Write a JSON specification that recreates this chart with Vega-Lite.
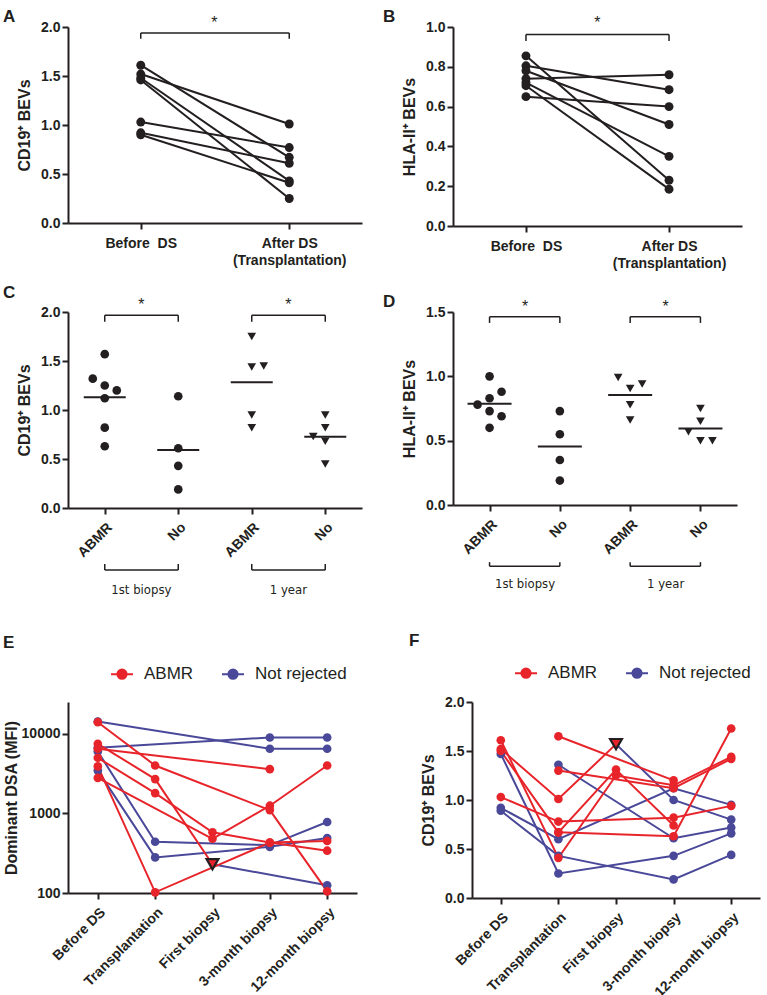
{
"$schema": "https://vega.github.io/schema/vega-lite/v6.json",
"background": "white",
"padding": {"left": 3, "top": 8, "right": 4, "bottom": 4},
"config": {
  "font": "Liberation Sans",
  "view": {"stroke": null},
  "axis": {"grid": false, "domainColor": "#231f20", "domainWidth": 2, "tickColor": "#231f20", "tickWidth": 2, "tickSize": 6, "labelFont": "Liberation Sans", "labelFontWeight": "bold", "labelFontSize": 14, "labelColor": "#231f20", "titleFont": "Liberation Sans", "titleFontWeight": "bold", "titleFontSize": 16, "titleColor": "#231f20", "labelPadding": 2, "titlePadding": 8, "labelOverlap": false},
  "title": {"anchor": "start", "fontSize": 17, "fontWeight": "bold", "font": "Liberation Sans", "color": "#231f20", "frame": "group", "baseline": "top", "offset": 0}
},
"datasets": {
  "a": [
    {"pid": 1, "time": "Before DS", "v": 1.61}, {"pid": 1, "time": "After DS", "v": 0.67},
    {"pid": 2, "time": "Before DS", "v": 1.52}, {"pid": 2, "time": "After DS", "v": 1.01},
    {"pid": 3, "time": "Before DS", "v": 1.48}, {"pid": 3, "time": "After DS", "v": 0.43},
    {"pid": 4, "time": "Before DS", "v": 1.46}, {"pid": 4, "time": "After DS", "v": 0.25},
    {"pid": 5, "time": "Before DS", "v": 1.03}, {"pid": 5, "time": "After DS", "v": 0.77},
    {"pid": 6, "time": "Before DS", "v": 0.92}, {"pid": 6, "time": "After DS", "v": 0.61},
    {"pid": 7, "time": "Before DS", "v": 0.90}, {"pid": 7, "time": "After DS", "v": 0.41}
  ],
  "aAnn": [
    {"xa": "Before DS", "xb": "After DS", "ya": 1.94, "yb": 1.94},
    {"xa": "Before DS", "xb": "Before DS", "ya": 1.94, "yb": 1.88},
    {"xa": "After DS", "xb": "After DS", "ya": 1.94, "yb": 1.88}
  ],
  "aTxt": [{"xa": "Before DS", "y": 2.04, "t": "*"}],
  "b": [
    {"pid": 1, "time": "Before DS", "v": 0.855}, {"pid": 1, "time": "After DS", "v": 0.23},
    {"pid": 2, "time": "Before DS", "v": 0.805}, {"pid": 2, "time": "After DS", "v": 0.685},
    {"pid": 3, "time": "Before DS", "v": 0.78}, {"pid": 3, "time": "After DS", "v": 0.51},
    {"pid": 4, "time": "Before DS", "v": 0.74}, {"pid": 4, "time": "After DS", "v": 0.76},
    {"pid": 5, "time": "Before DS", "v": 0.72}, {"pid": 5, "time": "After DS", "v": 0.35},
    {"pid": 6, "time": "Before DS", "v": 0.705}, {"pid": 6, "time": "After DS", "v": 0.185},
    {"pid": 7, "time": "Before DS", "v": 0.65}, {"pid": 7, "time": "After DS", "v": 0.60}
  ],
  "bAnn": [
    {"xa": "Before DS", "xb": "After DS", "ya": 0.962, "yb": 0.962},
    {"xa": "Before DS", "xb": "Before DS", "ya": 0.962, "yb": 0.93},
    {"xa": "After DS", "xb": "After DS", "ya": 0.962, "yb": 0.93}
  ],
  "bTxt": [{"xa": "Before DS", "y": 1.02, "t": "*"}],
  "c": [
    {"grp": "ABMR_1st", "tp": "1st biopsy", "v": 1.57, "jit": 0},
    {"grp": "ABMR_1st", "tp": "1st biopsy", "v": 1.32, "jit": -1},
    {"grp": "ABMR_1st", "tp": "1st biopsy", "v": 1.25, "jit": 0},
    {"grp": "ABMR_1st", "tp": "1st biopsy", "v": 1.20, "jit": 1},
    {"grp": "ABMR_1st", "tp": "1st biopsy", "v": 1.12, "jit": 0},
    {"grp": "ABMR_1st", "tp": "1st biopsy", "v": 0.82, "jit": 0},
    {"grp": "ABMR_1st", "tp": "1st biopsy", "v": 0.63, "jit": 0},
    {"grp": "No_1st", "tp": "1st biopsy", "v": 1.14, "jit": 0},
    {"grp": "No_1st", "tp": "1st biopsy", "v": 0.61, "jit": 0},
    {"grp": "No_1st", "tp": "1st biopsy", "v": 0.43, "jit": 0},
    {"grp": "No_1st", "tp": "1st biopsy", "v": 0.19, "jit": 0},
    {"grp": "ABMR_1y", "tp": "1 year", "v": 1.75, "jit": 0},
    {"grp": "ABMR_1y", "tp": "1 year", "v": 1.44, "jit": 0},
    {"grp": "ABMR_1y", "tp": "1 year", "v": 1.45, "jit": 1},
    {"grp": "ABMR_1y", "tp": "1 year", "v": 0.95, "jit": 0},
    {"grp": "ABMR_1y", "tp": "1 year", "v": 0.82, "jit": 0},
    {"grp": "No_1y", "tp": "1 year", "v": 0.95, "jit": 0},
    {"grp": "No_1y", "tp": "1 year", "v": 0.82, "jit": 0},
    {"grp": "No_1y", "tp": "1 year", "v": 0.73, "jit": -1},
    {"grp": "No_1y", "tp": "1 year", "v": 0.68, "jit": 0},
    {"grp": "No_1y", "tp": "1 year", "v": 0.45, "jit": 0}
  ],
  "cAnn": [
    {"xa": "ABMR_1st", "xb": "No_1st", "ya": 1.966, "yb": 1.966},
    {"xa": "ABMR_1st", "xb": "ABMR_1st", "ya": 1.966, "yb": 1.90},
    {"xa": "No_1st", "xb": "No_1st", "ya": 1.966, "yb": 1.90},
    {"xa": "ABMR_1y", "xb": "No_1y", "ya": 1.966, "yb": 1.966},
    {"xa": "ABMR_1y", "xb": "ABMR_1y", "ya": 1.966, "yb": 1.90},
    {"xa": "No_1y", "xb": "No_1y", "ya": 1.966, "yb": 1.90},
    {"xa": "ABMR_1st", "xb": "No_1st", "ya": -0.633, "yb": -0.633},
    {"xa": "ABMR_1st", "xb": "ABMR_1st", "ya": -0.633, "yb": -0.571},
    {"xa": "No_1st", "xb": "No_1st", "ya": -0.633, "yb": -0.571},
    {"xa": "ABMR_1y", "xb": "No_1y", "ya": -0.633, "yb": -0.633},
    {"xa": "ABMR_1y", "xb": "ABMR_1y", "ya": -0.633, "yb": -0.571},
    {"xa": "No_1y", "xb": "No_1y", "ya": -0.633, "yb": -0.571}
  ],
  "cStar": [{"xa": "ABMR_1st", "y": 2.07, "t": "*"}, {"xa": "ABMR_1y", "y": 2.07, "t": "*"}],
  "cGrp": [{"xa": "ABMR_1st", "y": -0.837, "t": "1st biopsy"}, {"xa": "ABMR_1y", "y": -0.837, "t": "1 year"}],
  "d": [
    {"grp": "ABMR_1st", "tp": "1st biopsy", "v": 1.00, "jit": 0},
    {"grp": "ABMR_1st", "tp": "1st biopsy", "v": 0.88, "jit": 1},
    {"grp": "ABMR_1st", "tp": "1st biopsy", "v": 0.83, "jit": 0},
    {"grp": "ABMR_1st", "tp": "1st biopsy", "v": 0.78, "jit": -1},
    {"grp": "ABMR_1st", "tp": "1st biopsy", "v": 0.73, "jit": 0},
    {"grp": "ABMR_1st", "tp": "1st biopsy", "v": 0.69, "jit": 1},
    {"grp": "ABMR_1st", "tp": "1st biopsy", "v": 0.60, "jit": 0},
    {"grp": "No_1st", "tp": "1st biopsy", "v": 0.73, "jit": 0},
    {"grp": "No_1st", "tp": "1st biopsy", "v": 0.55, "jit": 0},
    {"grp": "No_1st", "tp": "1st biopsy", "v": 0.35, "jit": 0},
    {"grp": "No_1st", "tp": "1st biopsy", "v": 0.19, "jit": 0},
    {"grp": "ABMR_1y", "tp": "1 year", "v": 0.99, "jit": -1},
    {"grp": "ABMR_1y", "tp": "1 year", "v": 0.94, "jit": 1},
    {"grp": "ABMR_1y", "tp": "1 year", "v": 0.905, "jit": 0},
    {"grp": "ABMR_1y", "tp": "1 year", "v": 0.78, "jit": 0},
    {"grp": "ABMR_1y", "tp": "1 year", "v": 0.66, "jit": 0},
    {"grp": "No_1y", "tp": "1 year", "v": 0.75, "jit": 0},
    {"grp": "No_1y", "tp": "1 year", "v": 0.65, "jit": 0},
    {"grp": "No_1y", "tp": "1 year", "v": 0.57, "jit": -1},
    {"grp": "No_1y", "tp": "1 year", "v": 0.50, "jit": 0},
    {"grp": "No_1y", "tp": "1 year", "v": 0.50, "jit": 1}
  ],
  "dAnn": [
    {"xa": "ABMR_1st", "xb": "No_1st", "ya": 1.463, "yb": 1.463},
    {"xa": "ABMR_1st", "xb": "ABMR_1st", "ya": 1.463, "yb": 1.415},
    {"xa": "No_1st", "xb": "No_1st", "ya": 1.463, "yb": 1.415},
    {"xa": "ABMR_1y", "xb": "No_1y", "ya": 1.463, "yb": 1.463},
    {"xa": "ABMR_1y", "xb": "ABMR_1y", "ya": 1.463, "yb": 1.415},
    {"xa": "No_1y", "xb": "No_1y", "ya": 1.463, "yb": 1.415},
    {"xa": "ABMR_1st", "xb": "No_1st", "ya": -0.476, "yb": -0.476},
    {"xa": "ABMR_1st", "xb": "ABMR_1st", "ya": -0.476, "yb": -0.444},
    {"xa": "No_1st", "xb": "No_1st", "ya": -0.476, "yb": -0.444},
    {"xa": "ABMR_1y", "xb": "No_1y", "ya": -0.476, "yb": -0.476},
    {"xa": "ABMR_1y", "xb": "ABMR_1y", "ya": -0.476, "yb": -0.444},
    {"xa": "No_1y", "xb": "No_1y", "ya": -0.476, "yb": -0.444}
  ],
  "dStar": [{"xa": "ABMR_1st", "y": 1.54, "t": "*"}, {"xa": "ABMR_1y", "y": 1.54, "t": "*"}],
  "dGrp": [{"xa": "ABMR_1st", "y": -0.611, "t": "1st biopsy"}, {"xa": "ABMR_1y", "y": -0.611, "t": "1 year"}],
  "e": [
    {"pid": "EB1", "grp": "Not rejected", "time": "Before DS", "v": 14300},
    {"pid": "EB1", "grp": "Not rejected", "time": "3-month biopsy", "v": 6500},
    {"pid": "EB1", "grp": "Not rejected", "time": "12-month biopsy", "v": 6500},
    {"pid": "EB2", "grp": "Not rejected", "time": "Before DS", "v": 6700},
    {"pid": "EB2", "grp": "Not rejected", "time": "3-month biopsy", "v": 9000},
    {"pid": "EB2", "grp": "Not rejected", "time": "12-month biopsy", "v": 9000},
    {"pid": "EB3", "grp": "Not rejected", "time": "Before DS", "v": 6000},
    {"pid": "EB3", "grp": "Not rejected", "time": "Transplantation", "v": 440},
    {"pid": "EB3", "grp": "Not rejected", "time": "3-month biopsy", "v": 400},
    {"pid": "EB3", "grp": "Not rejected", "time": "12-month biopsy", "v": 780},
    {"pid": "EB4", "grp": "Not rejected", "time": "Before DS", "v": 3450},
    {"pid": "EB4", "grp": "Not rejected", "time": "Transplantation", "v": 280},
    {"pid": "EB4", "grp": "Not rejected", "time": "3-month biopsy", "v": 380},
    {"pid": "EB4", "grp": "Not rejected", "time": "12-month biopsy", "v": 490},
    {"pid": "EB5", "grp": "Not rejected", "time": "First biopsy", "v": 230, "kind": "switch"},
    {"pid": "EB5", "grp": "Not rejected", "time": "12-month biopsy", "v": 125},
    {"pid": "ERa", "grp": "ABMR", "time": "Before DS", "v": 14000},
    {"pid": "ERa", "grp": "ABMR", "time": "Transplantation", "v": 4000},
    {"pid": "ERa", "grp": "ABMR", "time": "3-month biopsy", "v": 1100},
    {"pid": "ERa", "grp": "ABMR", "time": "12-month biopsy", "v": 105},
    {"pid": "ERb", "grp": "ABMR", "time": "Before DS", "v": 7500},
    {"pid": "ERb", "grp": "ABMR", "time": "Transplantation", "v": 2700},
    {"pid": "ERb", "grp": "ABMR", "time": "First biopsy", "v": 230, "kind": "switch"},
    {"pid": "ERc", "grp": "ABMR", "time": "Before DS", "v": 6500},
    {"pid": "ERc", "grp": "ABMR", "time": "3-month biopsy", "v": 3600},
    {"pid": "ERd", "grp": "ABMR", "time": "Before DS", "v": 5000},
    {"pid": "ERd", "grp": "ABMR", "time": "Transplantation", "v": 1800},
    {"pid": "ERd", "grp": "ABMR", "time": "First biopsy", "v": 580},
    {"pid": "ERd", "grp": "ABMR", "time": "3-month biopsy", "v": 430},
    {"pid": "ERd", "grp": "ABMR", "time": "12-month biopsy", "v": 450},
    {"pid": "ERe", "grp": "ABMR", "time": "Before DS", "v": 2800},
    {"pid": "ERe", "grp": "ABMR", "time": "First biopsy", "v": 480},
    {"pid": "ERe", "grp": "ABMR", "time": "3-month biopsy", "v": 1250},
    {"pid": "ERe", "grp": "ABMR", "time": "12-month biopsy", "v": 4000},
    {"pid": "ERf", "grp": "ABMR", "time": "Before DS", "v": 3900},
    {"pid": "ERf", "grp": "ABMR", "time": "Transplantation", "v": 102},
    {"pid": "ERf", "grp": "ABMR", "time": "3-month biopsy", "v": 430},
    {"pid": "ERf", "grp": "ABMR", "time": "12-month biopsy", "v": 340}
  ],
  "f": [
    {"pid": "FB1", "grp": "Not rejected", "time": "Before DS", "v": 1.47},
    {"pid": "FB1", "grp": "Not rejected", "time": "Transplantation", "v": 0.25},
    {"pid": "FB1", "grp": "Not rejected", "time": "3-month biopsy", "v": 0.43},
    {"pid": "FB1", "grp": "Not rejected", "time": "12-month biopsy", "v": 0.66},
    {"pid": "FB2", "grp": "Not rejected", "time": "Before DS", "v": 0.92},
    {"pid": "FB2", "grp": "Not rejected", "time": "Transplantation", "v": 0.60},
    {"pid": "FB2", "grp": "Not rejected", "time": "3-month biopsy", "v": 1.12},
    {"pid": "FB2", "grp": "Not rejected", "time": "12-month biopsy", "v": 0.95},
    {"pid": "FB3", "grp": "Not rejected", "time": "Before DS", "v": 0.89},
    {"pid": "FB3", "grp": "Not rejected", "time": "Transplantation", "v": 0.43},
    {"pid": "FB3", "grp": "Not rejected", "time": "3-month biopsy", "v": 0.19},
    {"pid": "FB3", "grp": "Not rejected", "time": "12-month biopsy", "v": 0.44},
    {"pid": "FB4", "grp": "Not rejected", "time": "Transplantation", "v": 1.36},
    {"pid": "FB4", "grp": "Not rejected", "time": "3-month biopsy", "v": 0.61},
    {"pid": "FB4", "grp": "Not rejected", "time": "12-month biopsy", "v": 0.72},
    {"pid": "FB5", "grp": "Not rejected", "time": "First biopsy", "v": 1.57, "kind": "switch"},
    {"pid": "FB5", "grp": "Not rejected", "time": "3-month biopsy", "v": 1.00},
    {"pid": "FB5", "grp": "Not rejected", "time": "12-month biopsy", "v": 0.80},
    {"pid": "FR1", "grp": "ABMR", "time": "Before DS", "v": 1.61},
    {"pid": "FR1", "grp": "ABMR", "time": "Transplantation", "v": 0.41},
    {"pid": "FR1", "grp": "ABMR", "time": "First biopsy", "v": 1.25},
    {"pid": "FR1", "grp": "ABMR", "time": "3-month biopsy", "v": 1.15},
    {"pid": "FR1", "grp": "ABMR", "time": "12-month biopsy", "v": 1.44},
    {"pid": "FR2", "grp": "ABMR", "time": "Before DS", "v": 1.52},
    {"pid": "FR2", "grp": "ABMR", "time": "Transplantation", "v": 1.01},
    {"pid": "FR2", "grp": "ABMR", "time": "First biopsy", "v": 1.57, "kind": "switch"},
    {"pid": "FR3", "grp": "ABMR", "time": "Before DS", "v": 1.50},
    {"pid": "FR3", "grp": "ABMR", "time": "Transplantation", "v": 0.67},
    {"pid": "FR3", "grp": "ABMR", "time": "First biopsy", "v": 1.31},
    {"pid": "FR3", "grp": "ABMR", "time": "3-month biopsy", "v": 0.74},
    {"pid": "FR4", "grp": "ABMR", "time": "Before DS", "v": 1.03},
    {"pid": "FR4", "grp": "ABMR", "time": "Transplantation", "v": 0.78},
    {"pid": "FR4", "grp": "ABMR", "time": "3-month biopsy", "v": 0.82},
    {"pid": "FR4", "grp": "ABMR", "time": "12-month biopsy", "v": 0.94},
    {"pid": "FR5", "grp": "ABMR", "time": "Transplantation", "v": 1.65},
    {"pid": "FR5", "grp": "ABMR", "time": "3-month biopsy", "v": 1.20},
    {"pid": "FR6", "grp": "ABMR", "time": "Transplantation", "v": 1.30},
    {"pid": "FR6", "grp": "ABMR", "time": "3-month biopsy", "v": 1.12},
    {"pid": "FR6", "grp": "ABMR", "time": "12-month biopsy", "v": 1.42},
    {"pid": "FR7", "grp": "ABMR", "time": "Transplantation", "v": 0.67},
    {"pid": "FR7", "grp": "ABMR", "time": "3-month biopsy", "v": 0.63},
    {"pid": "FR7", "grp": "ABMR", "time": "12-month biopsy", "v": 1.73}
  ]
},
"bounds": "flush",
"spacing": 675,
"resolve": {"scale": {"color": "independent", "shape": "independent"}, "legend": {"color": "independent", "shape": "independent"}},
"vconcat": [
 {
  "bounds": "flush",
  "spacing": 285,
  "resolve": {"scale": {"color": "independent", "shape": "independent"}, "legend": {"color": "independent", "shape": "independent"}},
  "vconcat": [
   {
    "bounds": "flush",
    "spacing": 91,
    "hconcat": [
     {
      "width": 294, "height": 196,
      "title": {"text": "A", "dx": -65, "dy": 15},
      "layer": [
       {"data": {"name": "a"}, "mark": {"type": "line", "color": "#231f20", "strokeWidth": 2},
        "encoding": {
          "x": {"field": "time", "type": "ordinal", "scale": {"type": "point", "domain": ["Before DS", "After DS"], "padding": 0.49},
                "axis": {"title": null, "labelAngle": 0, "labelPadding": 7, "labelLineHeight": 17, "labelExpr": "datum.value == 'After DS' ? ['After DS', '(Transplantation)'] : 'Before\u00a0 DS'"}},
          "y": {"field": "v", "type": "quantitative", "scale": {"domain": [0, 2], "nice": false},
                "axis": {"title": "CD19\u207a BEVs", "values": [0, 0.5, 1, 1.5, 2], "format": ".1f", "labelOverlap": false}},
          "detail": {"field": "pid"}}},
       {"data": {"name": "a"}, "mark": {"type": "point", "filled": true, "shape": "circle", "size": 80, "color": "#231f20", "opacity": 1},
        "encoding": {"x": {"field": "time", "type": "ordinal"}, "y": {"field": "v", "type": "quantitative"}}},
       {"data": {"name": "aAnn"}, "mark": {"type": "rule", "color": "#231f20", "strokeWidth": 1.5},
        "encoding": {"x": {"field": "xa", "type": "ordinal"}, "x2": {"field": "xb"}, "y": {"field": "ya", "type": "quantitative"}, "y2": {"field": "yb"}}},
       {"data": {"name": "aTxt"}, "mark": {"type": "text", "dx": 73.5, "fontSize": 16, "color": "#231f20", "baseline": "middle"},
        "encoding": {"x": {"field": "xa", "type": "ordinal"}, "y": {"field": "y", "type": "quantitative"}, "text": {"field": "t"}}}
      ]
     },
     {
      "width": 289, "height": 199,
      "title": {"text": "B", "dx": -70, "dy": 15},
      "layer": [
       {"data": {"name": "b"}, "mark": {"type": "line", "color": "#231f20", "strokeWidth": 2},
        "encoding": {
          "x": {"field": "time", "type": "ordinal", "scale": {"type": "point", "domain": ["Before DS", "After DS"], "padding": 0.51},
                "axis": {"title": null, "labelAngle": 0, "labelPadding": 7, "labelLineHeight": 17, "labelExpr": "datum.value == 'After DS' ? ['After DS', '(Transplantation)'] : 'Before\u00a0 DS'"}},
          "y": {"field": "v", "type": "quantitative", "scale": {"domain": [0, 1], "nice": false},
                "axis": {"title": "HLA-II\u207a BEVs", "tickCount": 5, "format": ".1f", "labelOverlap": false}},
          "detail": {"field": "pid"}}},
       {"data": {"name": "b"}, "mark": {"type": "point", "filled": true, "shape": "circle", "size": 80, "color": "#231f20", "opacity": 1},
        "encoding": {"x": {"field": "time", "type": "ordinal"}, "y": {"field": "v", "type": "quantitative"}}},
       {"data": {"name": "bAnn"}, "mark": {"type": "rule", "color": "#231f20", "strokeWidth": 1.5},
        "encoding": {"x": {"field": "xa", "type": "ordinal"}, "x2": {"field": "xb"}, "y": {"field": "ya", "type": "quantitative"}, "y2": {"field": "yb"}}},
       {"data": {"name": "bTxt"}, "mark": {"type": "text", "dx": 71.5, "fontSize": 16, "color": "#231f20", "baseline": "middle"},
        "encoding": {"x": {"field": "xa", "type": "ordinal"}, "y": {"field": "y", "type": "quantitative"}, "text": {"field": "t"}}}
      ]
     }
    ]
   },
   {
    "bounds": "flush",
    "spacing": 91,
    "resolve": {"scale": {"shape": "independent"}, "legend": {"shape": "independent"}},
    "hconcat": [
     {
      "width": 294, "height": 196,
      "title": {"text": "C", "dx": -65, "dy": 9},
      "layer": [
       {"data": {"name": "c"}, "mark": {"type": "point", "filled": true, "size": 75, "color": "#231f20", "opacity": 1},
        "encoding": {
          "x": {"field": "grp", "type": "ordinal", "scale": {"type": "point", "domain": ["ABMR_1st", "No_1st", "ABMR_1y", "No_1y"], "padding": 0.5},
                "axis": {"title": null, "labelAngle": -45, "labelPadding": 6, "labelExpr": "split(datum.label, '_')[0]"}},
          "xOffset": {"field": "jit", "type": "quantitative", "scale": {"domain": [-1, 1], "range": [-12, 12]}},
          "y": {"field": "v", "type": "quantitative", "scale": {"domain": [0, 2], "nice": false},
                "axis": {"title": "CD19\u207a BEVs", "values": [0, 0.5, 1, 1.5, 2], "format": ".1f", "labelOverlap": false}},
          "shape": {"field": "tp", "type": "nominal", "scale": {"domain": ["1st biopsy", "1 year"], "range": ["circle", "triangle-down"]}, "legend": null}}},
       {"data": {"name": "c"}, "mark": {"type": "tick", "orient": "horizontal", "size": 42, "thickness": 2, "color": "#231f20", "opacity": 1},
        "encoding": {"x": {"field": "grp", "type": "ordinal"}, "y": {"field": "v", "aggregate": "mean", "type": "quantitative"}}},
       {"data": {"name": "cAnn"}, "mark": {"type": "rule", "color": "#231f20", "strokeWidth": 1.5},
        "encoding": {"x": {"field": "xa", "type": "ordinal"}, "x2": {"field": "xb"}, "y": {"field": "ya", "type": "quantitative"}, "y2": {"field": "yb"}}},
       {"data": {"name": "cStar"}, "mark": {"type": "text", "dx": 36.6, "fontSize": 16, "color": "#231f20", "baseline": "middle"},
        "encoding": {"x": {"field": "xa", "type": "ordinal"}, "y": {"field": "y", "type": "quantitative"}, "text": {"field": "t"}}},
       {"data": {"name": "cGrp"}, "mark": {"type": "text", "dx": 36.6, "fontSize": 13, "font": "'Liberation Sans Narrow', 'DejaVu Sans Condensed', 'Liberation Sans', sans-serif", "color": "#231f20", "baseline": "middle"},
        "encoding": {"x": {"field": "xa", "type": "ordinal"}, "y": {"field": "y", "type": "quantitative"}, "text": {"field": "t"}}}
      ]
     },
     {
      "width": 284, "height": 193,
      "title": {"text": "D", "dx": -70, "dy": 16},
      "layer": [
       {"data": {"name": "d"}, "mark": {"type": "point", "filled": true, "size": 75, "color": "#231f20", "opacity": 1},
        "encoding": {
          "x": {"field": "grp", "type": "ordinal", "scale": {"type": "point", "domain": ["ABMR_1st", "No_1st", "ABMR_1y", "No_1y"], "padding": 0.52},
                "axis": {"title": null, "labelAngle": -45, "labelPadding": 6, "labelExpr": "split(datum.label, '_')[0]"}},
          "xOffset": {"field": "jit", "type": "quantitative", "scale": {"domain": [-1, 1], "range": [-12, 12]}},
          "y": {"field": "v", "type": "quantitative", "scale": {"domain": [0, 1.5], "nice": false},
                "axis": {"title": "HLA-II\u207a BEVs", "values": [0, 0.5, 1, 1.5], "format": ".1f", "labelOverlap": false}},
          "shape": {"field": "tp", "type": "nominal", "scale": {"domain": ["1st biopsy", "1 year"], "range": ["circle", "triangle-down"]}, "legend": null}}},
       {"data": {"name": "d"}, "mark": {"type": "tick", "orient": "horizontal", "size": 44, "thickness": 2, "color": "#231f20", "opacity": 1},
        "encoding": {"x": {"field": "grp", "type": "ordinal"}, "y": {"field": "v", "aggregate": "mean", "type": "quantitative"}}},
       {"data": {"name": "dAnn"}, "mark": {"type": "rule", "color": "#231f20", "strokeWidth": 1.5},
        "encoding": {"x": {"field": "xa", "type": "ordinal"}, "x2": {"field": "xb"}, "y": {"field": "ya", "type": "quantitative"}, "y2": {"field": "yb"}}},
       {"data": {"name": "dStar"}, "mark": {"type": "text", "dx": 35.5, "fontSize": 16, "color": "#231f20", "baseline": "middle"},
        "encoding": {"x": {"field": "xa", "type": "ordinal"}, "y": {"field": "y", "type": "quantitative"}, "text": {"field": "t"}}},
       {"data": {"name": "dGrp"}, "mark": {"type": "text", "dx": 35.5, "fontSize": 13, "font": "'Liberation Sans Narrow', 'DejaVu Sans Condensed', 'Liberation Sans', sans-serif", "color": "#231f20", "baseline": "middle"},
        "encoding": {"x": {"field": "xa", "type": "ordinal"}, "y": {"field": "y", "type": "quantitative"}, "text": {"field": "t"}}}
      ]
     }
    ]
   }
  ]
 },
 {
  "bounds": "flush",
  "spacing": 115,
  "resolve": {"scale": {"color": "independent"}, "legend": {"color": "independent"}},
  "hconcat": [
   {
    "width": 289, "height": 191,
    "title": {"text": "E", "dx": -65, "dy": -6},
    "data": {"name": "e"},
    "layer": [
     {"mark": {"type": "line", "strokeWidth": 2},
      "encoding": {
        "x": {"field": "time", "type": "ordinal", "sort": ["Before DS", "Transplantation", "First biopsy", "3-month biopsy", "12-month biopsy"],
              "scale": {"type": "point", "domain": ["Before DS", "Transplantation", "First biopsy", "3-month biopsy", "12-month biopsy"], "padding": 0.52},
              "axis": {"title": null, "labelAngle": -45, "labelPadding": 6}},
        "y": {"field": "v", "type": "quantitative", "scale": {"type": "log", "domain": [100, 25119], "nice": false},
              "axis": {"title": "Dominant DSA (MFI)", "titlePadding": 2, "values": [100, 1000, 10000], "format": "d", "labelOverlap": false}},
        "color": {"field": "grp", "type": "nominal", "scale": {"domain": ["ABMR", "Not rejected"], "range": ["#e8242b", "#4a4899"]},
                  "legend": {"title": null, "orient": "none", "legendX": 42, "legendY": -40, "direction": "horizontal",
                             "symbolType": "M-1,0L1,0M-0.42,0A0.42,0.42,0,1,0,0.42,0A0.42,0.42,0,1,0,-0.42,0Z",
                             "symbolSize": 484, "symbolStrokeWidth": 2, "labelFontSize": 17, "labelFont": "Liberation Sans", "labelColor": "#231f20",
                             "labelOffset": 10, "columnPadding": 24,
                             "encode": {"symbols": {"update": {"fill": {"scale": "color", "field": "value"}, "stroke": {"scale": "color", "field": "value"}, "opacity": {"value": 1}}}}}},
        "detail": {"field": "pid"}}},
     {"transform": [{"filter": "datum.kind !== 'switch'"}],
      "mark": {"type": "point", "filled": true, "shape": "circle", "size": 75, "opacity": 1},
      "encoding": {"x": {"field": "time", "type": "ordinal"}, "y": {"field": "v", "type": "quantitative"}, "color": {"field": "grp", "type": "nominal"}}},
     {"transform": [{"filter": "datum.kind === 'switch' && datum.grp === 'ABMR'"}],
      "mark": {"type": "point", "shape": "triangle-down", "filled": true, "fill": "#e8242b", "stroke": "#231f20", "strokeWidth": 2.2, "size": 140, "opacity": 1},
      "encoding": {"x": {"field": "time", "type": "ordinal"}, "y": {"field": "v", "type": "quantitative"}}}
    ]
   },
   {
    "width": 288, "height": 196,
    "title": {"text": "F", "dx": -63, "dy": -7},
    "data": {"name": "f"},
    "layer": [
     {"mark": {"type": "line", "strokeWidth": 2},
      "encoding": {
        "x": {"field": "time", "type": "ordinal", "sort": ["Before DS", "Transplantation", "First biopsy", "3-month biopsy", "12-month biopsy"],
              "scale": {"type": "point", "domain": ["Before DS", "Transplantation", "First biopsy", "3-month biopsy", "12-month biopsy"], "padding": 0.5},
              "axis": {"title": null, "labelAngle": -45, "labelPadding": 6}},
        "y": {"field": "v", "type": "quantitative", "scale": {"domain": [0, 2], "nice": false},
              "axis": {"title": "CD19\u207a BEVs", "values": [0, 0.5, 1, 1.5, 2], "format": ".1f", "labelOverlap": false}},
        "color": {"field": "grp", "type": "nominal", "scale": {"domain": ["ABMR", "Not rejected"], "range": ["#e8242b", "#4a4899"]},
                  "legend": {"title": null, "orient": "none", "legendX": 42, "legendY": -41, "direction": "horizontal",
                             "symbolType": "M-1,0L1,0M-0.42,0A0.42,0.42,0,1,0,0.42,0A0.42,0.42,0,1,0,-0.42,0Z",
                             "symbolSize": 484, "symbolStrokeWidth": 2, "labelFontSize": 17, "labelFont": "Liberation Sans", "labelColor": "#231f20",
                             "labelOffset": 10, "columnPadding": 24,
                             "encode": {"symbols": {"update": {"fill": {"scale": "color", "field": "value"}, "stroke": {"scale": "color", "field": "value"}, "opacity": {"value": 1}}}}}},
        "detail": {"field": "pid"}}},
     {"transform": [{"filter": "datum.kind !== 'switch'"}],
      "mark": {"type": "point", "filled": true, "shape": "circle", "size": 75, "opacity": 1},
      "encoding": {"x": {"field": "time", "type": "ordinal"}, "y": {"field": "v", "type": "quantitative"}, "color": {"field": "grp", "type": "nominal"}}},
     {"transform": [{"filter": "datum.kind === 'switch' && datum.grp === 'ABMR'"}],
      "mark": {"type": "point", "shape": "triangle-down", "filled": true, "fill": "#e8242b", "stroke": "#231f20", "strokeWidth": 2.2, "size": 140, "opacity": 1},
      "encoding": {"x": {"field": "time", "type": "ordinal"}, "y": {"field": "v", "type": "quantitative"}}}
    ]
   }
  ]
 }
]
}
